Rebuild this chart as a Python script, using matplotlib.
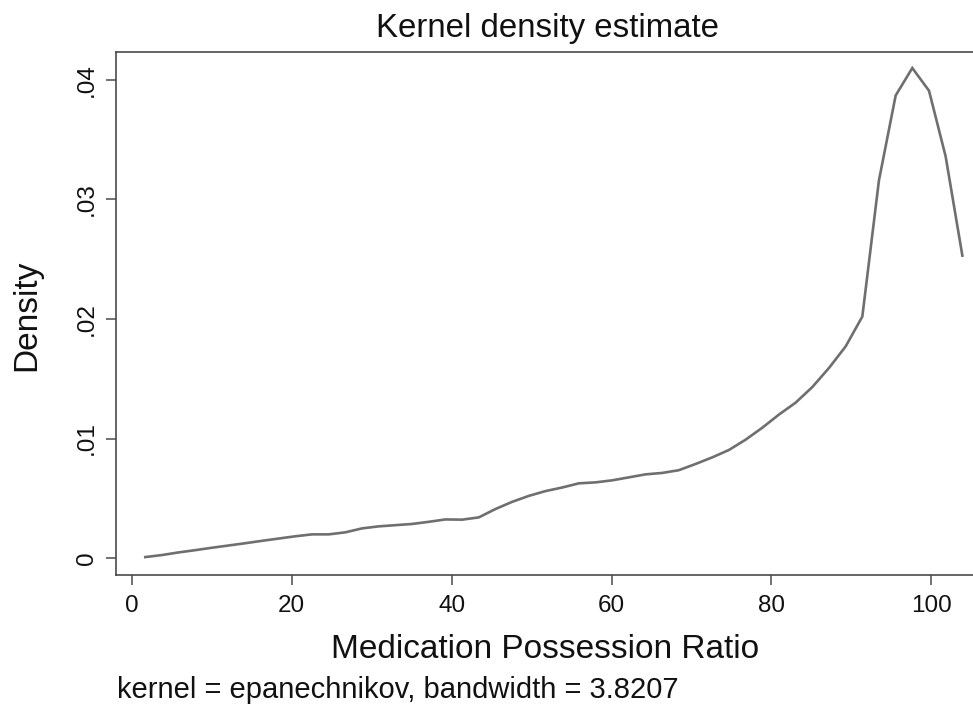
import matplotlib
matplotlib.use("Agg")
import matplotlib.pyplot as plt

plt.rcParams['font.family'] = ['Liberation Sans', 'DejaVu Sans']

# Evaluation grid (MPR) and estimated density
mpr = [1.70, 3.79, 5.87, 7.96, 10.04, 12.13, 14.21, 16.30, 18.38, 20.47,
       22.55, 24.64, 26.72, 28.81, 30.89, 32.98, 35.06, 37.15, 39.23, 41.32,
       43.40, 45.49, 47.57, 49.66, 51.74, 53.83, 55.91, 58.00, 60.08, 62.17,
       64.25, 66.34, 68.42, 70.51, 72.59, 74.68, 76.76, 78.85, 80.93, 83.02,
       85.10, 87.19, 89.27, 91.36, 93.44, 95.53, 97.61, 99.70, 101.78, 103.87]
density = [0.00008, 0.00025, 0.00047, 0.00066, 0.00086, 0.00105, 0.00124, 0.00144, 0.00163, 0.00182,
           0.00198, 0.00198, 0.00215, 0.00248, 0.00265, 0.00275, 0.00285, 0.00303, 0.00323, 0.00321,
           0.00340, 0.00410, 0.00470, 0.00520, 0.00560, 0.00590, 0.00625, 0.00633, 0.00650, 0.00675,
           0.00700, 0.00712, 0.00735, 0.00787, 0.00842, 0.00904, 0.00990, 0.01090, 0.01200, 0.01300,
           0.01430, 0.01590, 0.01770, 0.02020, 0.03160, 0.03870, 0.04100, 0.03910, 0.03360, 0.02530]

xticks = [0, 20, 40, 60, 80, 100]
xticklabels = ["0", "20", "40", "60", "80", "100"]
yticks = [0, 0.01, 0.02, 0.03, 0.04]
yticklabels = ["0", ".01", ".02", ".03", ".04"]

W, H = 973, 713
fig = plt.figure(figsize=(W / 100, H / 100), dpi=100)
left, right, top, bottom = 116, 973, 52, 575
ax = fig.add_axes([left / W, 1 - bottom / H, (right - left) / W, (bottom - top) / H])

ax.plot(mpr, density, color="#6f6f6f", lw=1.9, solid_joinstyle="miter")

ax.set_xlim(-1.96, 105.2)
ax.set_ylim(-0.00142, 0.04234)
ax.set_xticks(xticks)
ax.set_xticklabels(xticklabels)
ax.set_yticks(yticks)
ax.set_yticklabels(yticklabels, rotation=90, va="center")

spine_col = "#4a4a4a"
for s in ["left", "bottom", "top"]:
    ax.spines[s].set_color(spine_col)
    ax.spines[s].set_linewidth(1.2)
ax.spines["right"].set_visible(False)
ax.tick_params(axis="both", direction="out", length=7.2, width=1.1, color=spine_col,
               labelsize=17.5, labelcolor="#111111")
ax.tick_params(axis="x", pad=7)
ax.tick_params(axis="y", pad=6)

fig.text(548 / W, 1 - 28 / H, "Kernel density estimate", ha="center", va="center",
         fontsize=23.8, color="#111111")
fig.text(545 / W, 1 - 650 / H, "Medication Possession Ratio", ha="center", va="center",
         fontsize=24, color="#111111")
fig.text(27 / W, 1 - 315 / H, "Density", ha="center", va="center", rotation=90,
         fontsize=24, color="#111111")
fig.text(117 / W, 1 - 690 / H, "kernel = epanechnikov, bandwidth = 3.8207", ha="left", va="center",
         fontsize=21, color="#111111")

fig.savefig("out.png", dpi=100)
